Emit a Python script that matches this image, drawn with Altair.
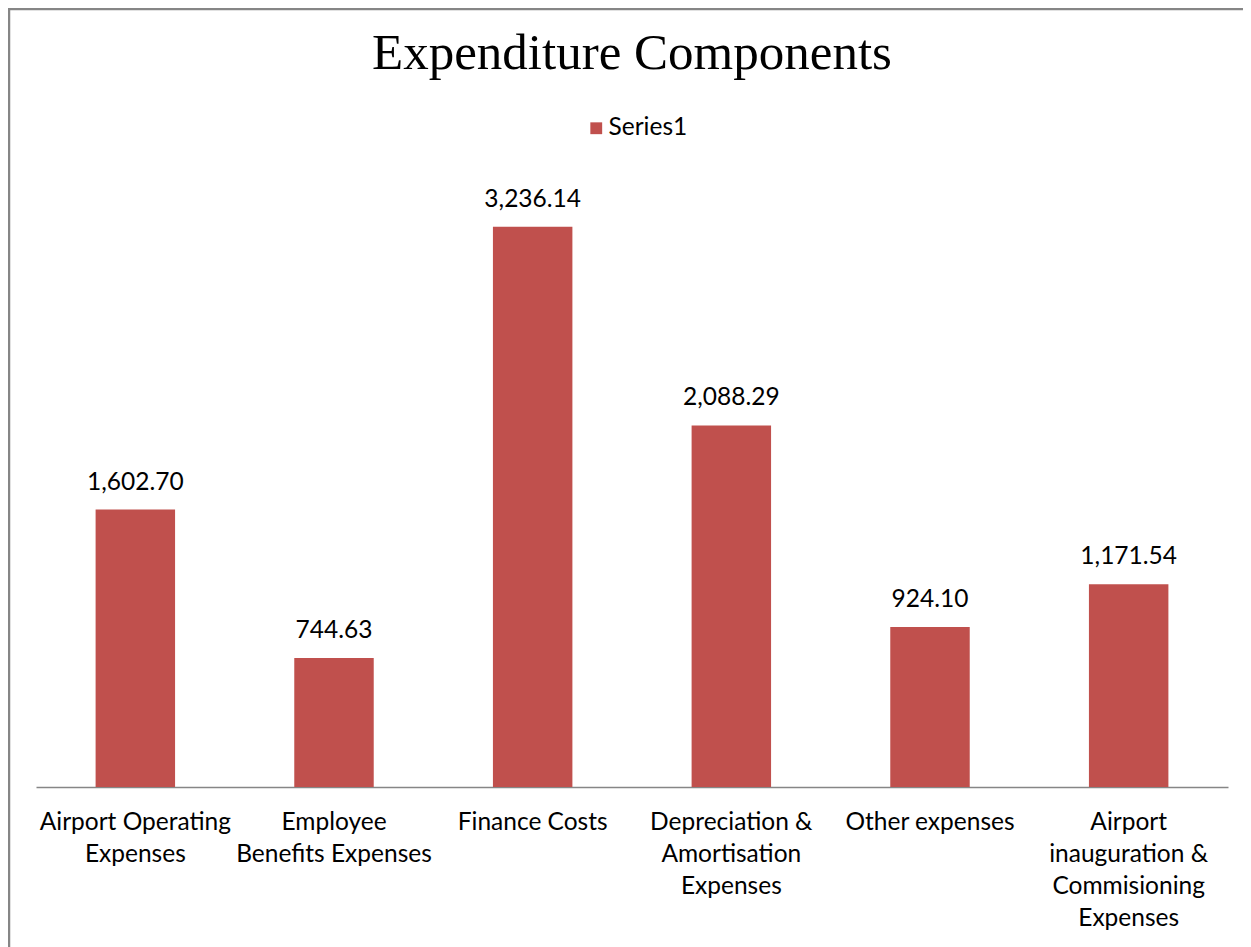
import altair as alt
import pandas as pd

categories = [
    "Airport Operating\nExpenses",
    "Employee\nBenefits Expenses",
    "Finance Costs",
    "Depreciation &\nAmortisation\nExpenses",
    "Other expenses",
    "Airport\ninauguration &\nCommisioning\nExpenses",
]
values = [1602.70, 744.63, 3236.14, 2088.29, 924.10, 1171.54]
series_name = ["Series1"] * len(values)

df = pd.DataFrame({"category": categories, "value": values, "series": series_name})

LABEL_FONT = "Lato"
FS = 24.5
BAR_COLOR = "#C0504D"
W, H = 1192, 606

x = alt.X(
    "category:N",
    sort=categories,
    scale=alt.Scale(paddingInner=0.6, paddingOuter=0.3),
    axis=alt.Axis(
        title=None,
        labelAngle=0,
        labelExpr="split(datum.label, '\\n')",
        labelFont=LABEL_FONT,
        labelFontSize=FS,
        labelColor="#000000",
        labelLineHeight=32,
        labelPadding=23,
        labelBaseline="top",
        ticks=False,
        domainColor="#868686",
        domainWidth=1.5,
        labelLimit=400,
    ),
)
y = alt.Y("value:Q", scale=alt.Scale(domain=[0, 3500]), axis=None)

bars = alt.Chart(df).mark_bar(color=BAR_COLOR).encode(
    x=x,
    y=y,
    color=alt.Color(
        "series:N",
        scale=alt.Scale(range=[BAR_COLOR]),
        legend=alt.Legend(
            title=None,
            orient="none",
            legendX=548,
            legendY=-65,
            symbolType="square",
            symbolSize=140,
            symbolStrokeWidth=0,
            labelFont=LABEL_FONT,
            labelFontSize=FS,
            labelColor="#000000",
            labelOffset=0,
            padding=0,
        ),
    ),
)

labels = alt.Chart(df).mark_text(
    font=LABEL_FONT, fontSize=FS, color="#000000", baseline="alphabetic", dy=-20
).encode(
    x=alt.X("category:N", sort=categories),
    y="value:Q",
    text=alt.Text("value:Q", format=",.2f"),
)

frame = alt.Chart(pd.DataFrame({"a": [0]})).mark_rect(
    fill=None, stroke="#868686", strokeWidth=2.5, clip=False
).encode(
    x=alt.value(-27), x2=alt.value(W + 200), y=alt.value(-172), y2=alt.value(H + 300)
)

chart = (
    alt.layer(frame, bars, labels)
    .properties(
        width=W,
        height=H,
        title=alt.TitleParams(
            "Expenditure Components",
            font="Liberation Serif",
            fontSize=51,
            fontWeight="normal",
            color="#000000",
            anchor="middle",
            offset=-72,
        ),
        autosize=alt.AutoSizeParams(type="none"),
        padding={"left": 28, "top": 173, "right": 15, "bottom": 160},
    )
    .configure_view(stroke=None)
)

chart.save("out.html", embed_options={"renderer": "svg", "actions": False})
